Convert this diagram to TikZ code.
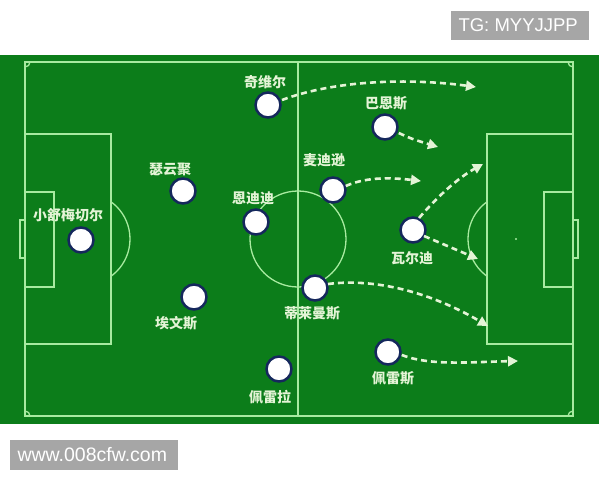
\documentclass[tikz,border=0pt]{standalone}
\usepackage{fontspec}
\setmainfont{Liberation Sans}
\newfontfamily\cjk{Noto Sans CJK SC}
\usetikzlibrary{arrows.meta}
\definecolor{pitch}{HTML}{0C7D1A}
\definecolor{pline}{HTML}{A8EBA0}
\definecolor{navy}{HTML}{15285C}
\definecolor{run}{HTML}{E4F4D6}
\definecolor{tagbg}{HTML}{A6A6A6}
\tikzset{
    player/.style={circle,draw=navy,line width=2.5pt,fill=white,minimum size=25pt,inner sep=0pt},
    plabel/.style={text=run,font=\cjk\bfseries\fontsize{14}{14}\selectfont,inner sep=0pt},
    runline/.style={run,line width=2.6pt,dash pattern=on 6pt off 4pt,-{Triangle[length=10pt,width=10pt]}},
    wmark/.style={fill=tagbg,text=white,inner sep=0pt,anchor=west}
}
\begin{document}
\begin{tikzpicture}[x=1pt,y=-1pt]
    \useasboundingbox (0,0) rectangle (600,480);
    \fill[pitch] (0,55) rectangle (599,424);
    % field markings
    \begin{scope}[pline,line width=1.3pt]
        \draw (25,62) rectangle (573,416);
        \draw (298,62) -- (298,416);
        \draw (298,239) circle (48);
        \fill (516,239) circle (1.2);
        \draw (25,134) rectangle (111,344);
        \draw (25,192) rectangle (54,287);
        \draw (20,220) rectangle (25,258);
        \draw (487,134) rectangle (573,344);
        \draw (544,192) rectangle (573,287);
        \draw (573,220) rectangle (578,258);
        \begin{scope}
            \clip (111,55) rectangle (200,424);
            \draw (84,239) circle (46);
        \end{scope}
        \begin{scope}
            \clip (400,55) rectangle (487,424);
            \draw (514,239) circle (46);
        \end{scope}
        \begin{scope}
            \clip (25,62) rectangle (573,416);
            \foreach \cx/\cy in {25/62,25/416,573/62,573/416}
                \draw (\cx,\cy) circle (5);
        \end{scope}
    \end{scope}
    % players
    \node[player] (schmeichel) at (81,240) {};
    \node[player] (soyuncu) at (183,191) {};
    \node[player] (chilwell) at (268,105) {};
    \node[player] (ndidi) at (256,222) {};
    \node[player] (evans) at (194,297) {};
    \node[player] (pereira) at (279,369) {};
    \node[player] (tielemans) at (315,288) {};
    \node[player] (maddison) at (333,190) {};
    \node[player] (barnes) at (385,127) {};
    \node[player] (vardy) at (413,230) {};
    \node[player] (perez) at (388,352) {};
    \node[plabel] (schmeichel-l) at (68,215) {小舒梅切尔};
    \node[plabel] (soyuncu-l) at (170,169) {瑟云聚};
    \node[plabel] (chilwell-l) at (265,82) {奇维尔};
    \node[plabel] (ndidi-l) at (253,198) {恩迪迪};
    \node[plabel] (evans-l) at (176,323) {埃文斯};
    \node[plabel] (pereira-l) at (270,397) {佩雷拉};
    \node[plabel] (tielemans-l) at (312,313) {蒂莱曼斯};
    \node[plabel] (maddison-l) at (324,160) {麦迪逊};
    \node[plabel] (barnes-l) at (386,103) {巴恩斯};
    \node[plabel] (vardy-l) at (412,258) {瓦尔迪};
    \node[plabel] (perez-l) at (393,378) {佩雷斯};
    % runs
    \coordinate (chilwell-t) at (476,87);
    \coordinate (barnes-t) at (438,147);
    \coordinate (maddison-t) at (421,181);
    \coordinate (vardy-t1) at (483,164);
    \coordinate (vardy-t2) at (478,259);
    \coordinate (tielemans-t) at (488,326);
    \coordinate (perez-t) at (518,361);
    \draw[runline] (chilwell) ++(14,-5) .. controls (335,80) and (410,78) .. (chilwell-t);
    \draw[runline] (barnes.east) ++(0,6) .. controls (412,139) .. (barnes-t);
    \draw[runline] (maddison.east) ++(-1,-4) .. controls (368,176) and (395,178) .. (maddison-t);
    \draw[runline] (vardy) ++(6,-12) .. controls (438,196) and (458,178) .. (vardy-t1);
    \draw[runline] (vardy) ++(11,6) -- (vardy-t2);
    \draw[runline] (tielemans) ++(13,-4) .. controls (375,278) and (430,292) .. (tielemans-t);
    \draw[runline] (perez.east) ++(0,3) .. controls (430,366) and (470,362) .. (perez-t);
    % watermarks
    \node[wmark,minimum width=138pt,minimum height=29pt] (tg) at (451,25) {};
    \node[anchor=west,text=white,font=\fontsize{18.5}{18.5}\selectfont] (tg-t) at (455,25) {TG: MYYJJPP};
    \node[wmark,minimum width=168pt,minimum height=30pt] (site) at (10,455) {};
    \node[anchor=west,text=white,font=\fontsize{19.5}{19.5}\selectfont] (site-t) at (14,455) {www.008cfw.com};
\end{tikzpicture}
\end{document}
